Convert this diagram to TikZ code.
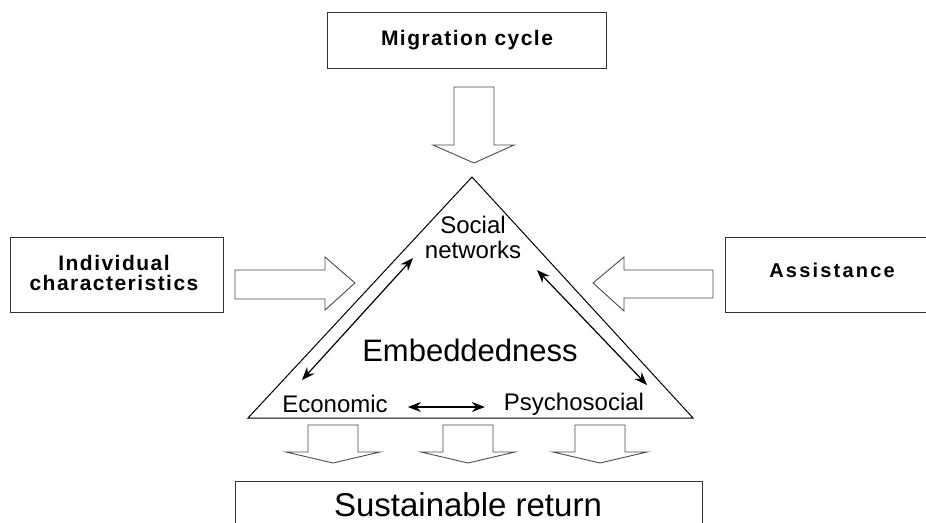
\documentclass[tikz,border=0pt]{standalone}
\usepackage{fontspec}
\setmainfont{Liberation Sans}
\newfontfamily\boxfont[LetterSpace=7]{Liberation Sans Bold}
\newfontfamily\boxfontw[LetterSpace=11]{Liberation Sans Bold}
\usetikzlibrary{arrows.meta}
\tikzset{
  frame/.style={draw=black!80, line width=1pt},
  blockarrow/.style={draw=black!70, line width=0.9pt, fill=white, line join=miter},
  dbl/.style={draw=black, line width=1.2pt, {Stealth[length=13pt,width=10pt]}-{Stealth[length=13pt,width=10pt]}},
  lbl/.style={inner sep=0pt, font=\fontsize{24}{26}\selectfont},
  bold/.style={inner sep=0pt, font=\fontsize{21}{21}\selectfont\boxfont, align=center},
}
\begin{document}
\begin{tikzpicture}[x=1pt,y=-1pt]
\useasboundingbox (0,0) rectangle (926,522);
\fill[white] (0,0) rectangle (926,522);
\begin{scope}
\clip (0,0) rectangle (926,522);
% boxes
\draw[frame] (327,12) rectangle (606,68);
\node[bold] (mig) at (467,40) {Migration cycle};
\draw[frame] (10,237) rectangle (223,312);
\node[bold, font=\fontsize{21}{21}\selectfont\boxfont] (ind) at (114,272.5) {Individual\\[-1pt]characteristics};
\draw[frame] (725,237) rectangle (940,312);
\node[bold, font=\fontsize{20}{20}\selectfont\boxfontw] (ass) at (832,270) {Assistance};
\draw[frame] (235,481) rectangle (702,540);
\node[lbl, font=\fontsize{33}{33}\selectfont] (sus) at (468,505) {Sustainable return};
\end{scope}
% block arrows
\draw[blockarrow] (454,87) -- (494,87) -- (494,145) -- (514,145) -- (474,163) -- (433,145) -- (454,145) -- cycle;
\draw[blockarrow] (235,270) -- (325,270) -- (325,257) -- (355,283) -- (325,310) -- (325,299) -- (235,299) -- cycle;
\draw[blockarrow] (713,270) -- (624,270) -- (624,257) -- (593,283) -- (624,311) -- (624,298) -- (713,298) -- cycle;
\foreach \c in {333,468,600}{
  \draw[blockarrow] (\c-25,425) -- (\c+25,425) -- (\c+25,452) -- (\c+47,452) -- (\c,463) -- (\c-47,452) -- (\c-25,452) -- cycle;
}
% triangle
\coordinate (apex) at (472,177);
\coordinate (bl) at (248,418);
\coordinate (br) at (693,418);
\draw[black, line width=1pt, line join=miter] (apex) -- (bl) -- (br) -- cycle;
% labels
\node[lbl, align=center, font=\fontsize{24}{25}\selectfont] (soc) at (473,237) {Social\\networks};
\node[lbl, font=\fontsize{31}{31}\selectfont] (emb) at (470,350) {Embeddedness};
\node[lbl] (eco) at (335,404) {Economic};
\node[lbl] (psy) at (574,404) {Psychosocial};
% relation arrows
\coordinate (s1) at (413,258);
\coordinate (e1) at (302,380);
\coordinate (s2) at (537,270);
\coordinate (p2) at (647,385);
\draw[dbl] (e1) -- (s1);
\draw[dbl] (s2) -- (p2);
\draw[dbl] (eco.east) ++(20,3) coordinate (ea) -- ++(77,0) coordinate (pa);
\end{tikzpicture}
\end{document}
